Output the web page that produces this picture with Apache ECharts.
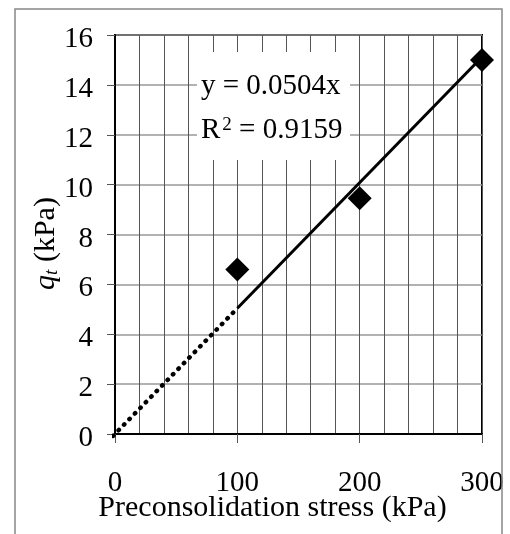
<!DOCTYPE html>
<html>
<head>
<meta charset="utf-8">
<script src="https://cdn.jsdelivr.net/npm/echarts@6/dist/echarts.min.js"></script>
<style>
html,body{margin:0;padding:0;background:#fff;}
#chart{width:510px;height:534px;}
</style>
</head>
<body>
<div id="chart"></div>
<script>
// ---- data ----
var stressKPa = [100, 200, 300];
var qtKPa = [6.6, 9.45, 15.0];
var trendSolidX = [100, 300];
var trendSolidY = [5.04, 15.12];
var trendDottedX = [-6, 100];
var trendDottedY = [-0.30, 5.04];
var xTicks = [0, 100, 200, 300];
var yTicks = [0, 2, 4, 6, 8, 10, 12, 14, 16];
var eqLine = 'y = 0.0504x';
var r2Value = '0.9159';
var xTitle = 'Preconsolidation stress (kPa)';

var FONT = '"Liberation Serif", "Times New Roman", serif';

function pairs(xs, ys) { return xs.map(function (x, i) { return [x, ys[i]]; }); }

var chart = echarts.init(document.getElementById('chart'), null, {renderer: 'canvas'});
chart.setOption({
  backgroundColor: '#fff',
  animation: false,
  grid: {
    left: 115, top: 35, right: 28, bottom: 100,
    outerBoundsMode: 'none', containLabel: false,
    show: true, borderColor: '#000', borderWidth: 2, backgroundColor: 'transparent'
  },
  xAxis: {
    type: 'value', min: xTicks[0], max: xTicks[xTicks.length - 1], interval: 100,
    name: xTitle, nameLocation: 'middle', nameGap: 59, nameMoveOverlap: false,
    nameTextStyle: {fontFamily: FONT, fontSize: 30, color: '#000', padding: [0, 52, 0, 0]},
    axisLine: {show: true, onZero: false, lineStyle: {color: '#000', width: 2}},
    axisTick: {show: true, inside: false, length: 9, lineStyle: {color: '#555', width: 1}},
    axisLabel: {fontFamily: FONT, fontSize: 29, color: '#000', margin: 35},
    splitLine: {show: true, lineStyle: {color: '#555', width: 1}},
    minorTick: {show: false, splitNumber: 5},
    minorSplitLine: {show: true, lineStyle: {color: '#555', width: 1}}
  },
  yAxis: {
    type: 'value', min: yTicks[0], max: yTicks[yTicks.length - 1], interval: 2,
    name: '{q|q}{t|t}{n| (kPa)}', nameLocation: 'middle', nameGap: 54, nameRotate: 90, nameMoveOverlap: false,
    nameTextStyle: {
      fontFamily: FONT, fontSize: 30, color: '#000', padding: [0, 18, 0, 0],
      rich: {
        q: {fontFamily: FONT, fontSize: 30, fontStyle: 'italic', color: '#000'},
        t: {fontFamily: FONT, fontSize: 19, fontStyle: 'italic', color: '#000', verticalAlign: 'bottom', padding: [10, 0, 0, 0]},
        n: {fontFamily: FONT, fontSize: 30, color: '#000'}
      }
    },
    axisLine: {show: true, onZero: false, lineStyle: {color: '#000', width: 2}},
    axisTick: {show: true, inside: false, length: 8, lineStyle: {color: '#555', width: 1}},
    axisLabel: {fontFamily: FONT, fontSize: 29, color: '#000', margin: 22, verticalAlign: 'top', lineHeight: 9},
    splitLine: {show: true, lineStyle: {color: '#999', width: 1.5}}
  },
  graphic: [
    {
      type: 'rect', silent: true, z: 100,
      shape: {x: 15, y: 9, width: 487, height: 540},
      style: {fill: 'none', stroke: '#888', lineWidth: 1.5}
    },
    {
      type: 'rect', silent: true, z: 50,
      shape: {x: 197, y: 52, width: 153, height: 108},
      style: {fill: '#fff', stroke: 'none'}
    },
    {
      type: 'text', z: 60, left: 201, top: 72,
      style: {text: eqLine, font: '29px ' + FONT, fill: '#000'}
    },
    {
      type: 'text', z: 60, left: 201, top: 116,
      style: {
        text: '{a|R}{s|2}{a| = ' + r2Value + '}',
        fill: '#000',
        rich: {
          a: {fontFamily: FONT, fontSize: 29, fill: '#000'},
          s: {fontFamily: FONT, fontSize: 19, fill: '#000', verticalAlign: 'top', padding: [0, 0, 9, 2]}
        }
      }
    }
  ],
  series: [
    {
      type: 'line', data: pairs(trendDottedX, trendDottedY), clip: false, symbol: 'none', z: 3,
      lineStyle: {color: '#000', width: 4.5, type: [0.5, 7.3], cap: 'round'}
    },
    {
      type: 'line', data: pairs(trendSolidX, trendSolidY), symbol: 'none', z: 3,
      lineStyle: {color: '#000', width: 3}
    },
    {
      type: 'scatter', data: pairs(stressKPa, qtKPa), symbol: 'diamond', symbolSize: 24, z: 4,
      itemStyle: {color: '#000', opacity: 1}
    }
  ]
});
</script>
</body>
</html>
